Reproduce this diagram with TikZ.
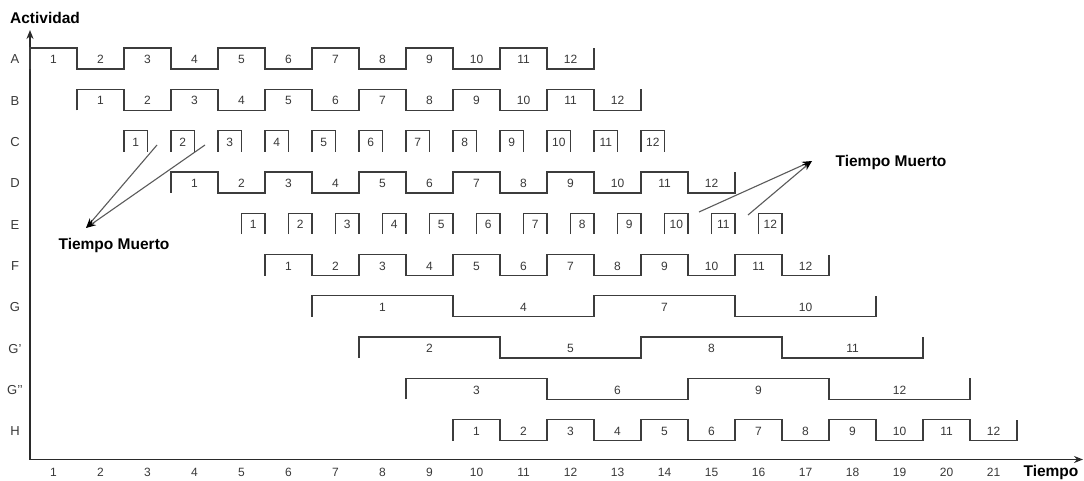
\documentclass[tikz,border=0pt]{standalone}
\usepackage{fontspec}
\setmainfont{Liberation Sans}
\usetikzlibrary{arrows.meta}
\definecolor{wavegray}{HTML}{3C3C3C}
\definecolor{numgray}{HTML}{383838}
\definecolor{ptrgray}{HTML}{5A5A5A}
\definecolor{axisgray}{HTML}{2A2A2A}
\begin{document}
\begin{tikzpicture}[x=1pt,y=-1pt,
    wave/.style={draw=wavegray,line width=1.3pt},
    num/.style={text=numgray,font=\fontsize{12}{12}\selectfont,inner sep=0pt},
    lbl/.style={font=\bfseries\fontsize{15.5}{15.5}\selectfont,inner sep=0pt},
    pointer/.style={draw=ptrgray,line width=1.1pt,-{Stealth[length=10pt,width=7pt,color=black]}}]
  \useasboundingbox (0,0) rectangle (1084,481);
  \draw[axisgray,line width=1.8pt,{Stealth[length=9pt,width=7pt]}-{Stealth[length=9pt,width=7pt]}] (30,30) -- (30,459.5) -- (1083,459.5);
  \node[lbl] (actividad) at (45,18) {Actividad};
  \node[lbl] (tiempo) at (1051,472) {Tiempo};
  \foreach \i in {1,...,21}
    \node[num] (t\i) at ({6.5+47*\i},472) {\i};
  \foreach \r/\a in {0/A,1/B,2/C,3/D,4/E,5/F,6/G,7/G',8/G'{}',9/H}
    \node[num,font=\fontsize{13}{13}\selectfont] (r\r) at (15,{59.5+41.3*\r}) {\a};
  \foreach \r/\s/\L/\n/\f in {0/0/1/12/1,1/1/1/12/1,3/3/1/12/1,5/5/1/12/1,6/6/3/4/1,7/7/3/4/2,8/8/3/4/3,9/9/1/12/1}{
    \pgfmathsetmacro{\yt}{48+41.3*\r}
    \pgfmathsetmacro{\yb}{\yt+21}
    \pgfmathtruncatemacro{\np}{\n/2}
    \draw[wave] ({30+47*\s},\yb) \foreach \p in {1,...,\np}{ -- ++(0,-21) -- ++(47*\L,0) -- ++(0,21) -- ++(47*\L,0) } -- ++(0,-21);
    \foreach \j in {1,...,\n}{
      \pgfmathtruncatemacro{\k}{\f+\L*(\j-1)}
      \node[num] (w\r-\j) at ({30+47*(\s+\L*(\j-1))+23.5*\L},\yt+11.5) {\k};
    }
  }
  \foreach \r/\s/\o in {2/2/0,4/4/23.5}{
    \pgfmathsetmacro{\yt}{48+41.3*\r}
    \foreach \j in {1,...,12}{
      \pgfmathsetmacro{\xa}{30+47*(\s+\j-1)+\o}
      \draw[wave] (\xa,\yt+21) -- ++(0,-21) -- ++(23.5,0) -- ++(0,21);
      \node[num] (b\r-\j) at (\xa+11.75,\yt+11.5) {\j};
    }
  }
  \node[lbl] (muertoL) at (114,245) {Tiempo Muerto};
  \node[lbl] (muertoR) at (891,162) {Tiempo Muerto};
  \coordinate (tipL) at (86,228);
  \coordinate (tipR) at (812,161);
  \coordinate (c1) at (157,145);
  \coordinate (c2) at (205,145);
  \coordinate (e10) at (699,212);
  \coordinate (e11) at (748,215);
  \draw[pointer] (c1) -- (tipL);
  \draw[pointer] (c2) -- (tipL);
  \draw[pointer] (e10) -- (tipR);
  \draw[pointer] (e11) -- (tipR);
\end{tikzpicture}
\end{document}
